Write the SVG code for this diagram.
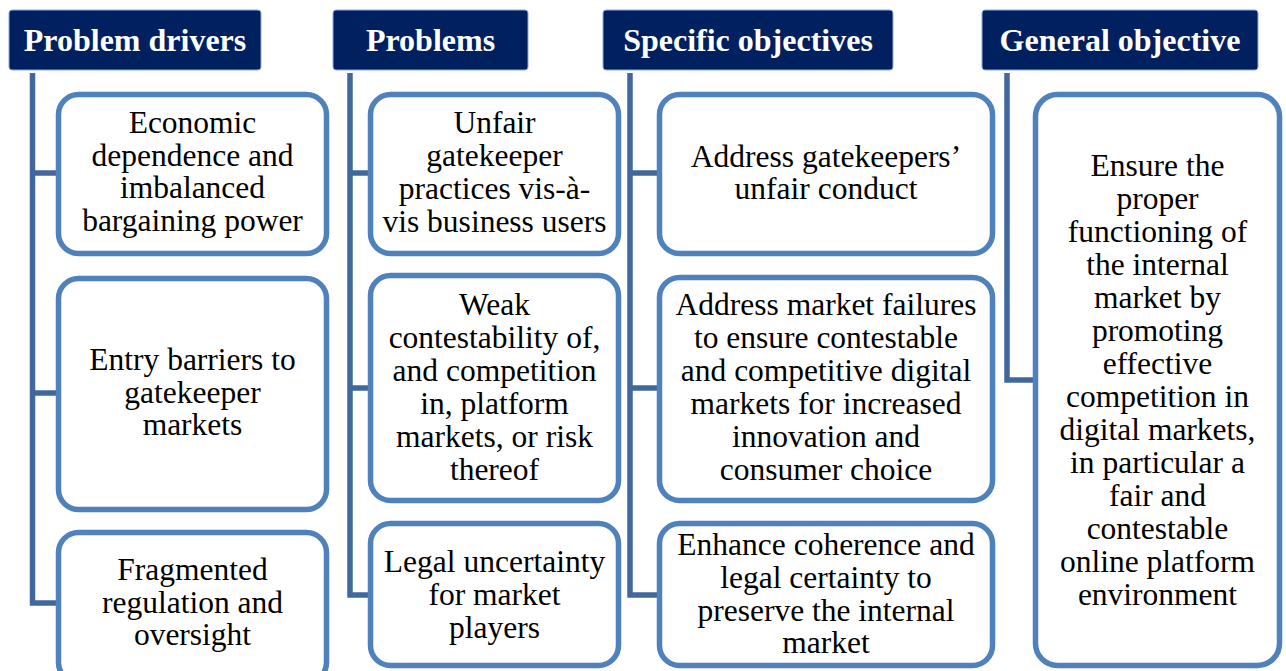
<svg xmlns="http://www.w3.org/2000/svg" width="1286" height="671" viewBox="0 0 1286 671">
<style>
.hdr{fill:#002060;stroke:#8EA9DB;stroke-width:1}
.ht{font-family:"Liberation Serif","Times New Roman",serif;font-weight:bold;font-size:32px;fill:#ffffff;text-anchor:middle}
.box{fill:#ffffff;stroke:#4F81BD;stroke-width:5.5}
.bt{font-family:"Liberation Serif","Times New Roman",serif;font-weight:normal;font-size:31.5px;fill:#000000;text-anchor:middle}
.con{fill:none;stroke:#41689C;stroke-width:5.5;stroke-linejoin:miter}
</style>
<rect width="1286" height="671" fill="#ffffff"/>
<g id="connectors">
<path class="con" d="M32.5 73 V603 H58 M32.5 173 H58 M32.5 393 H58"/>
<path class="con" d="M350 73 V595 H370 M350 173 H370 M350 388 H370"/>
<path class="con" d="M630 73 V595 H659 M630 173 H659 M630 388 H659"/>
<path class="con" d="M1007 73 V380 H1035"/>
</g>
<g id="h1"><rect class="hdr" x="9" y="10" width="252" height="60" rx="3"/><text class="ht" x="135" y="51">Problem drivers</text></g>
<g id="h2"><rect class="hdr" x="333" y="10" width="195" height="60" rx="3"/><text class="ht" x="430.5" y="51">Problems</text></g>
<g id="h3"><rect class="hdr" x="603" y="10" width="290" height="60" rx="3"/><text class="ht" x="748" y="51">Specific objectives</text></g>
<g id="h4"><rect class="hdr" x="982" y="10" width="276" height="60" rx="3"/><text class="ht" x="1120" y="51">General objective</text></g>

<g id="d1"><rect class="box" x="58.5" y="94.5" width="268" height="159" rx="20"/>
<text class="bt"><tspan x="192.5" y="133">Economic</tspan><tspan x="192.5" y="166">dependence and</tspan><tspan x="192.5" y="198">imbalanced</tspan><tspan x="192.5" y="231">bargaining power</tspan></text></g>
<g id="d2"><rect class="box" x="58.5" y="278.5" width="268" height="231" rx="20"/>
<text class="bt"><tspan x="192.5" y="370">Entry barriers to</tspan><tspan x="192.5" y="403">gatekeeper</tspan><tspan x="192.5" y="435">markets</tspan></text></g>
<g id="d3"><rect class="box" x="58.5" y="532.5" width="268" height="150" rx="20"/>
<text class="bt"><tspan x="192.5" y="580">Fragmented</tspan><tspan x="192.5" y="613">regulation and</tspan><tspan x="192.5" y="645">oversight</tspan></text></g>

<g id="p1"><rect class="box" x="370.5" y="94.5" width="248" height="159" rx="20"/>
<text class="bt"><tspan x="494.5" y="133">Unfair</tspan><tspan x="494.5" y="166">gatekeeper</tspan><tspan x="494.5" y="199">practices vis-à-</tspan><tspan x="494.5" y="232">vis business users</tspan></text></g>
<g id="p2"><rect class="box" x="370.5" y="275.5" width="248" height="225" rx="20"/>
<text class="bt"><tspan x="494.5" y="315">Weak</tspan><tspan x="494.5" y="348">contestability of,</tspan><tspan x="494.5" y="381">and competition</tspan><tspan x="494.5" y="414">in, platform</tspan><tspan x="494.5" y="447">markets, or risk</tspan><tspan x="494.5" y="480">thereof</tspan></text></g>
<g id="p3"><rect class="box" x="370.5" y="523.5" width="248" height="142" rx="20"/>
<text class="bt"><tspan x="494.5" y="572">Legal uncertainty</tspan><tspan x="494.5" y="605">for market</tspan><tspan x="494.5" y="638">players</tspan></text></g>

<g id="s1"><rect class="box" x="659.5" y="94.5" width="333" height="159" rx="20"/>
<text class="bt"><tspan x="826" y="167">Address gatekeepers’</tspan><tspan x="826" y="199">unfair conduct</tspan></text></g>
<g id="s2"><rect class="box" x="659.5" y="277.5" width="333" height="223" rx="20"/>
<text class="bt"><tspan x="826" y="315">Address market failures</tspan><tspan x="826" y="348">to ensure contestable</tspan><tspan x="826" y="381">and competitive digital</tspan><tspan x="826" y="414">markets for increased</tspan><tspan x="826" y="447">innovation and</tspan><tspan x="826" y="480">consumer choice</tspan></text></g>
<g id="s3"><rect class="box" x="659.5" y="523.5" width="333" height="142" rx="20"/>
<text class="bt"><tspan x="826" y="555">Enhance coherence and</tspan><tspan x="826" y="588">legal certainty to</tspan><tspan x="826" y="621">preserve the internal</tspan><tspan x="826" y="653">market</tspan></text></g>

<g id="g1"><rect class="box" x="1035.5" y="94.5" width="244" height="571" rx="22"/>
<text class="bt"><tspan x="1157.5" y="176">Ensure the</tspan><tspan x="1157.5" y="209">proper</tspan><tspan x="1157.5" y="242">functioning of</tspan><tspan x="1157.5" y="275">the internal</tspan><tspan x="1157.5" y="308">market by</tspan><tspan x="1157.5" y="341">promoting</tspan><tspan x="1157.5" y="374">effective</tspan><tspan x="1157.5" y="407">competition in</tspan><tspan x="1157.5" y="440">digital markets,</tspan><tspan x="1157.5" y="473">in particular a</tspan><tspan x="1157.5" y="506">fair and</tspan><tspan x="1157.5" y="539">contestable</tspan><tspan x="1157.5" y="572">online platform</tspan><tspan x="1157.5" y="605">environment</tspan></text></g>
</svg>
